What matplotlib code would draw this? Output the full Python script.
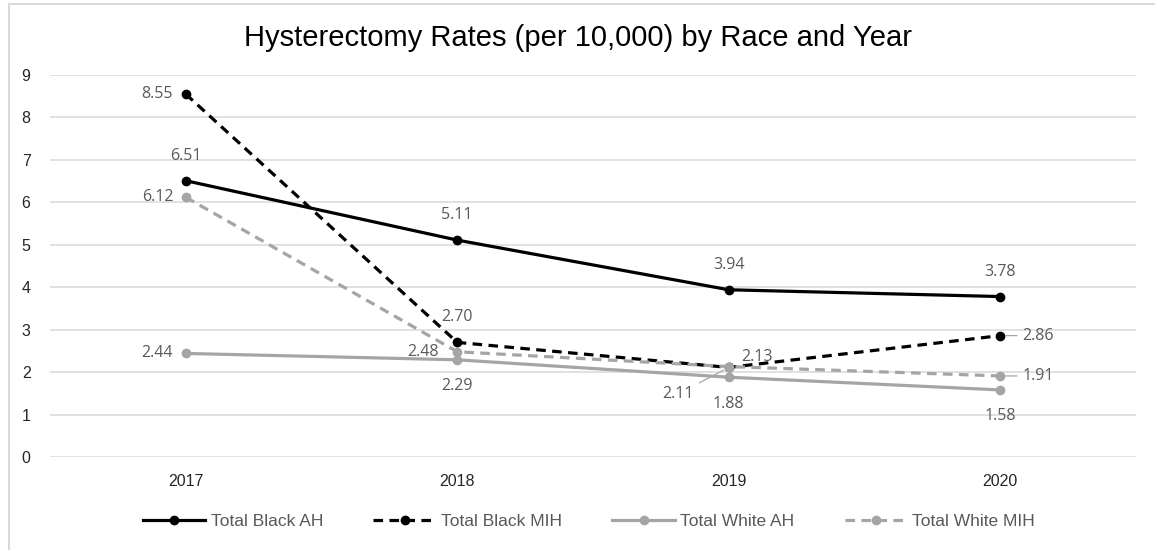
import matplotlib.pyplot as plt
from matplotlib.patches import Rectangle

# Data
years = ['2017', '2018', '2019', '2020']
black_ah = [6.51, 5.11, 3.94, 3.78]
black_mih = [8.55, 2.70, 2.11, 2.86]
white_ah = [2.44, 2.29, 1.88, 1.58]
white_mih = [6.12, 2.48, 2.13, 1.91]

BLACK = '#000000'
GREY = '#a5a5a5'
LABEL_COL = '#595959'

fig = plt.figure(figsize=(11.55, 5.5), dpi=100)
ax = fig.add_axes([50 / 1155, 93 / 550, 1086 / 1155, 382 / 550])

x = list(range(len(years)))
lw = 2.3
ms = 6
ax.plot(x, black_ah, color=BLACK, lw=lw, marker='o', ms=ms, label='Total Black AH', zorder=4)
ax.plot(x, black_mih, color=BLACK, lw=lw, marker='o', ms=ms, dashes=(3, 2),
        label='Total Black MIH', zorder=3)
ax.plot(x, white_ah, color=GREY, lw=lw, marker='o', ms=ms, label='Total White AH', zorder=3)
ax.plot(x, white_mih, color=GREY, lw=lw, marker='o', ms=ms, dashes=(3, 2),
        label='Total White MIH', zorder=5)

ax.set_xlim(-0.5, 3.5)
ax.set_ylim(0, 9)
ax.set_yticks(range(0, 10))
ax.set_xticks(x)
ax.set_xticklabels(years)
ax.grid(axis='y', color='#dedede', lw=1.3)
ax.set_axisbelow(True)
for s in ax.spines.values():
    s.set_visible(False)
ax.tick_params(axis='both', length=0, labelsize=11.5, labelcolor='#262626')
ax.tick_params(axis='y', pad=14)
ax.tick_params(axis='x', pad=12)
for t in ax.get_xticklabels() + ax.get_yticklabels():
    t.set_family('Liberation Sans')

# data labels: offsets in points, alignment
lab_font = dict(fontsize=11.5, color=LABEL_COL, family='Open Sans')


def put(vals, offs, leaders=()):
    for i, (v, (dx, dy, ha)) in enumerate(zip(vals, offs)):
        ap = None
        if i in leaders:
            ap = dict(arrowstyle='-', color=GREY, lw=0.9, shrinkA=2, shrinkB=4)
        ax.annotate(f'{v:.2f}', (x[i], v), xytext=(dx, dy), textcoords='offset points',
                    ha=ha, va='center', arrowprops=ap, zorder=6, **lab_font)


put(black_ah, [(0, 18, 'center')] * 4)
put(black_mih, [(-9, 0, 'right'), (0, 18, 'center'), (-25, -19, 'right'), (16, 0, 'left')],
    leaders=(2, 3))
put(white_ah, [(-9, 0, 'right'), (0, -19, 'center'), (0, -19, 'center'), (0, -19, 'center')])
put(white_mih, [(-9, 0, 'right'), (-13, 0, 'right'), (20, 7, 'center'), (16, 0, 'left')],
    leaders=(3,))

fig.text(0.5, 1 - 38 / 550, 'Hysterectomy Rates (per 10,000) by Race and Year',
         ha='center', va='center', fontsize=21, family='Liberation Sans', color='#000000')

leg = fig.legend(loc='center', bbox_to_anchor=(589 / 1155, 1 - 521 / 550), ncol=4,
                 frameon=False, handlelength=3.6, columnspacing=2.9, handletextpad=0.3,
                 prop={'family': 'Liberation Sans', 'size': 12.5}, numpoints=1)
for t in leg.get_texts():
    t.set_color('#595959')

# outer frame of the chart area
fig.patches.append(Rectangle((8.5 / 1155, -0.1), 1.2, 1 - 3.5 / 550 + 0.1,
                             transform=fig.transFigure, fill=False,
                             edgecolor='#d9d9d9', lw=1.5))

fig.savefig('out.png', dpi=100)
